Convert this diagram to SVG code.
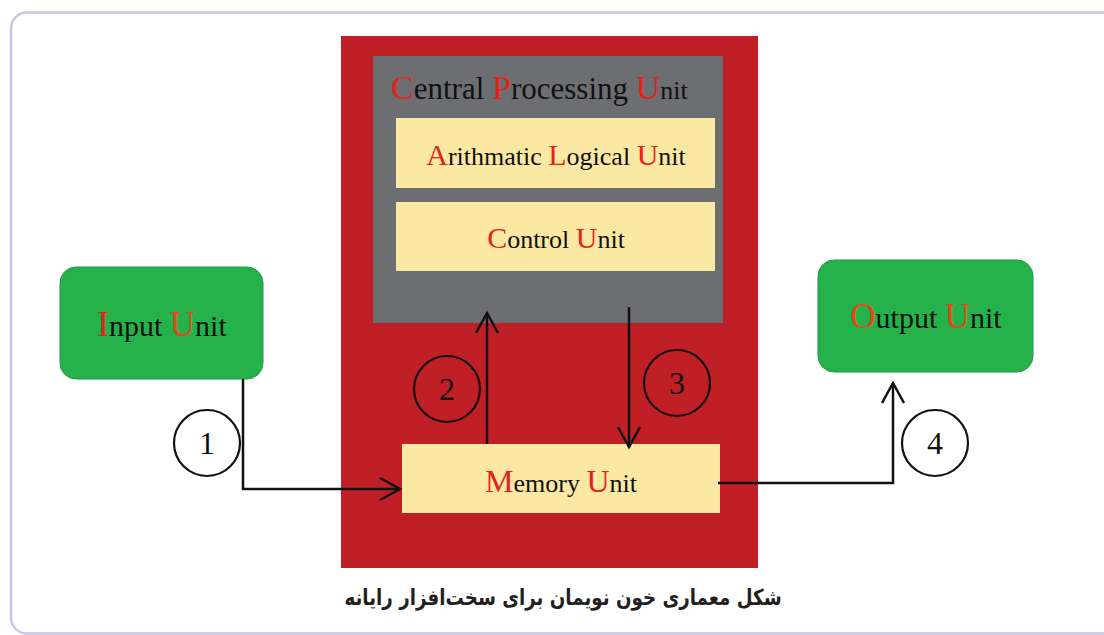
<svg xmlns="http://www.w3.org/2000/svg" width="1104" height="635" viewBox="0 0 1104 635">
  <style>
    .t { font-family: "Liberation Serif", "Times New Roman", serif; fill: #111; }
    .r { fill: #e4221c; }
    .o { fill: #e8461a; }
    .yel { fill: #fbe8a2; }
    .green { fill: #26b24b; stroke: #1f9a40; stroke-width: 1; }
    .wire { fill: none; stroke: #111; stroke-width: 2.5; }
    .num { fill: none; stroke: #111; stroke-width: 2.2; }
    .digit { font-family: "Liberation Serif", "Times New Roman", serif; font-size: 32px; fill: #111; text-anchor: middle; }
  </style>
  <defs>
    <marker id="head" markerUnits="userSpaceOnUse" markerWidth="30" markerHeight="30" viewBox="0 0 30 30" refX="23" refY="12" orient="auto">
      <path d="M3,1 L23,12 L3,23" fill="none" stroke="#111" stroke-width="2.5"/>
    </marker>
  </defs>

  <!-- page frame -->
  <rect x="0" y="0" width="1104" height="635" fill="#fff"/>
  <rect x="11" y="12.5" width="1120" height="621" rx="16" fill="none" stroke="#c9c5e6" stroke-width="2.5"/>

  <!-- computer body -->
  <g id="computer">
    <rect x="341" y="36" width="417" height="532" fill="#c11f26"/>
  </g>

  <!-- central processing unit -->
  <g id="cpu">
    <rect x="373" y="56" width="350" height="267" fill="#6d6e71"/>
    <text class="t" x="391" y="99"><tspan class="r" font-size="34">C</tspan><tspan font-size="31">entral </tspan><tspan class="r" font-size="34">P</tspan><tspan font-size="31">rocessing </tspan><tspan class="r" font-size="34">U</tspan><tspan font-size="26">nit</tspan></text>
  </g>

  <g id="alu">
    <rect class="yel" x="396" y="118" width="319" height="70"/>
    <text class="t" x="556" y="165" text-anchor="middle"><tspan class="r" font-size="30">A</tspan><tspan font-size="26">rithmatic </tspan><tspan class="r" font-size="30">L</tspan><tspan font-size="26">ogical </tspan><tspan class="r" font-size="30">U</tspan><tspan font-size="26">nit</tspan></text>
  </g>

  <g id="control">
    <rect class="yel" x="396" y="202" width="319" height="69"/>
    <text class="t" x="556" y="248" text-anchor="middle"><tspan class="r" font-size="30">C</tspan><tspan font-size="26">ontrol </tspan><tspan class="r" font-size="30">U</tspan><tspan font-size="26">nit</tspan></text>
  </g>

  <g id="memory">
    <rect class="yel" x="402" y="444" width="318" height="69"/>
    <text class="t" x="561" y="492" text-anchor="middle"><tspan class="r" font-size="32">M</tspan><tspan font-size="26">emory </tspan><tspan class="r" font-size="32">U</tspan><tspan font-size="26">nit</tspan></text>
  </g>

  <g id="input">
    <rect class="green" x="60" y="267" width="203" height="112" rx="16"/>
    <text class="t" x="162" y="336" text-anchor="middle"><tspan class="r" font-size="35">I</tspan><tspan font-size="30">nput </tspan><tspan class="o" font-size="35">U</tspan><tspan font-size="30">nit</tspan></text>
  </g>

  <g id="output">
    <rect class="green" x="818" y="260" width="215" height="112" rx="16"/>
    <text class="t" x="926" y="328" text-anchor="middle"><tspan class="o" font-size="35">O</tspan><tspan font-size="30">utput </tspan><tspan class="o" font-size="35">U</tspan><tspan font-size="30">nit</tspan></text>
  </g>

  <!-- data flow -->
  <g id="connectors">
    <path class="wire" d="M243,379 V489 H400" marker-end="url(#head)"/>
    <path class="wire" d="M487,444 V313" marker-end="url(#head)"/>
    <path class="wire" d="M629,307 V447" marker-end="url(#head)"/>
    <path class="wire" d="M718,483 H893 V383" marker-end="url(#head)"/>
  </g>

  <!-- step numbers -->
  <g id="step1">
    <circle class="num" cx="207" cy="443" r="33"/>
    <text class="digit" x="207" y="454">1</text>
  </g>
  <g id="step2">
    <circle class="num" cx="447" cy="389" r="33"/>
    <text class="digit" x="447" y="400">2</text>
  </g>
  <g id="step3">
    <circle class="num" cx="677" cy="383" r="33"/>
    <text class="digit" x="677" y="394">3</text>
  </g>
  <g id="step4">
    <circle class="num" cx="935" cy="443" r="33"/>
    <text class="digit" x="935" y="454">4</text>
  </g>

  <!-- caption, narrowed horizontally to keep the glyphs tall -->
  <text transform="translate(563,605) scale(0.83,1)" x="0" y="0" text-anchor="middle" direction="rtl" font-family="'DejaVu Sans', sans-serif" font-weight="bold" font-size="22" fill="#231f20">شکل معماری خون نویمان برای سخت‌افزار رایانه</text>
</svg>
